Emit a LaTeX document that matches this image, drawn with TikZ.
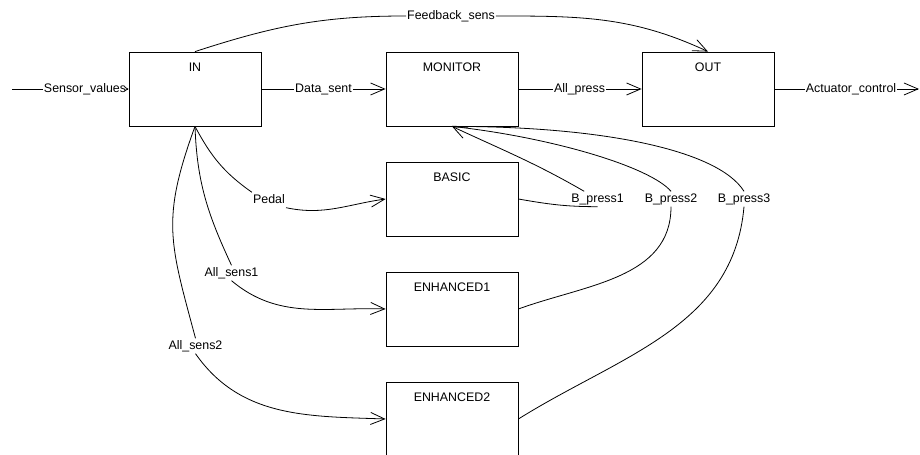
\documentclass[tikz,border=0pt]{standalone}
\usepackage{fontspec}
\setmainfont{Liberation Sans}
\usetikzlibrary{arrows.meta}
\begin{document}
\begin{tikzpicture}[x=1bp,y=1bp,
  every node/.style={font=\fontsize{12.4bp}{14bp}\selectfont},
  box/.style={draw, line width=0.8bp, minimum width=132bp, minimum height=74bp, inner sep=0pt},
  ttl/.style={anchor=north, inner sep=0pt, yshift=-11.5bp},
  lbl/.style={inner xsep=1bp, inner ysep=2.5bp, text height=9bp, text depth=1bp},
  conn/.style={line width=0.8bp},
  arr/.style={conn, -{Straight Barb[length=14bp,width=12bp,line width=0.8bp]}},
  smallarr/.style={conn, -{Straight Barb[length=3bp,width=3.5bp,line width=0.8bp]}},
]
\useasboundingbox (0,0) rectangle (920,455);

% blocks
\node[box, label={[ttl]north:IN}] (IN) at (195,366) {};
\node[box, label={[ttl]north:MONITOR}] (MON) at (452,366) {};
\node[box, label={[ttl]north:OUT}] (OUT) at (708,366) {};
\node[box, label={[ttl]north:BASIC}] (BASIC) at (452,256) {};
\node[box, label={[ttl]north:ENHANCED1}] (E1) at (452,146) {};
\node[box, label={[ttl]north:ENHANCED2}] (E2) at (452,36) {};

% horizontal flow
\coordinate (svs) at (12,366);
\node[lbl] (sv) at (85,366) {Sensor\_values};
\draw[conn] (svs) -- (sv.west);
\draw[smallarr] (sv.east) -- (IN.west);

\node[lbl] (ds) at (323.5,366) {Data\_sent};
\draw[conn] (IN.east) -- (ds.west);
\draw[arr] (ds.east) -- (MON.west);

\node[lbl] (ap) at (579.5,366) {All\_press};
\draw[conn] (MON.east) -- (ap.west);
\draw[arr] (ap.east) -- (OUT.west);

\node[lbl] (ac) at (851,366) {Actuator\_control};
\coordinate (ace) at (919,366);
\draw[conn] (OUT.east) -- (ac.west);
\draw[arr] (ac.east) -- (ace);

% feedback
\node[lbl] (fb) at (451,439) {Feedback\_sens};
\draw[conn] (IN.north) to[out=18,in=180] (fb.west);
\draw[arr] (fb.east) to[out=0,in=155] (OUT.north);

% IN to processing blocks
\node[lbl] (pd) at (269,255) {Pedal};
\draw[conn] (IN.south) to[out=-62,in=145] (pd.north west);
\draw[arr] (pd.south east) to[out=-12,in=188] (BASIC.west);

\node[lbl] (as1) at (231.5,182) {All\_sens1};
\draw[conn] (IN.south) to[out=-88,in=115] (as1.north);
\draw[arr] (as1.south) to[out=-40,in=178] (E1.west);

\node[lbl] (as2) at (195.5,109) {All\_sens2};
\draw[conn] (IN.south) to[out=-110,in=105,looseness=1.2] (as2.north);
\draw[arr] (as2.south) to[out=-55,in=178] (E2.west);

% processing blocks back to MONITOR
\node[lbl] (bp1) at (597.5,256) {B\_press1};
\draw[conn] (BASIC.east) to[out=-10,in=180] (bp1.south);
\draw[arr] (bp1.150) to[out=150,in=-25] (MON.south);

\node[lbl] (bp2) at (671,256) {B\_press2};
\draw[conn] (E1.east) to[out=20,in=-90] (bp2.south);
\draw[conn] (bp2.north) .. controls +(-21,24.5) and +(100,-11) .. (MON.south);

\node[lbl] (bp3) at (744,256) {B\_press3};
\draw[conn] (E2.east) to[out=32,in=-95] (bp3.south);
\draw[conn] (bp3.north) .. controls +(-26,41.5) and +(150,0) .. (MON.south);
\end{tikzpicture}
\end{document}
